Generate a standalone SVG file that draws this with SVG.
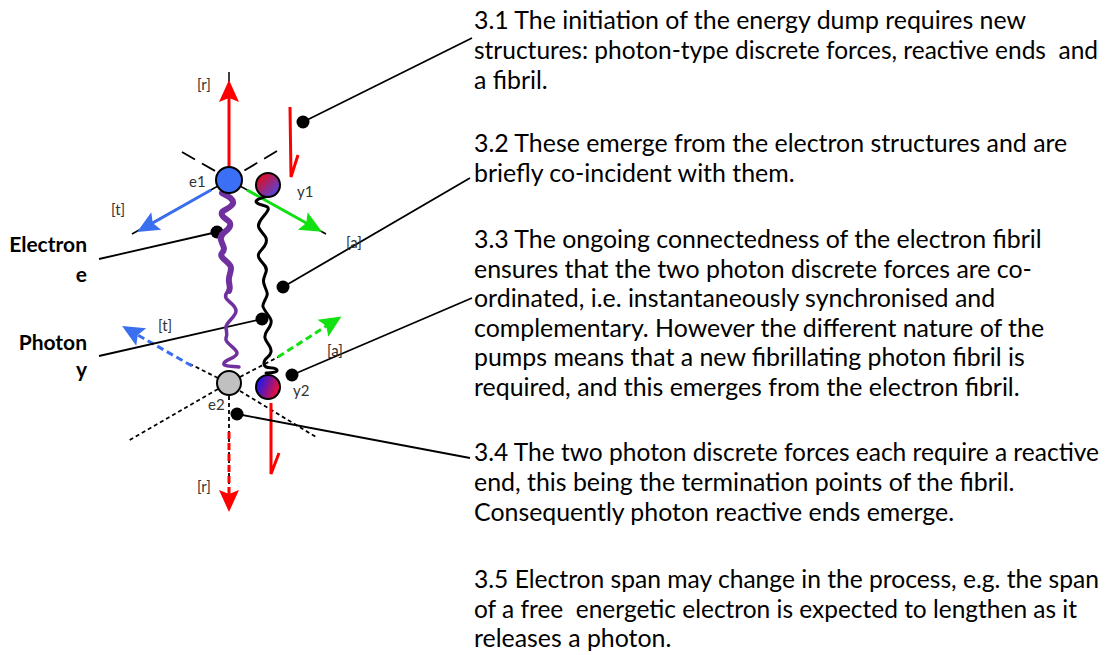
<svg xmlns="http://www.w3.org/2000/svg" width="1107" height="655" viewBox="0 0 1107 655">
<style>
.body{font-family:Lato,"Open Sans","Liberation Sans",sans-serif;font-size:24.9px;fill:#000}
.lbl{font-family:Lato,"Open Sans","Liberation Sans",sans-serif;font-size:15px;fill:#333}
.side{font-family:Lato,"Open Sans","Liberation Sans",sans-serif;font-size:21px;font-weight:bold;fill:#000}
.thin{stroke:#000;stroke-width:1.5;fill:none}
.dot{stroke:#000;stroke-width:1.8;fill:none;stroke-dasharray:4 3}
.call{stroke:#000;stroke-width:1.8;fill:none}
.cdot{fill:#000}
.node{stroke:#000;stroke-width:2}
</style>
<defs>
<marker id="hRed" viewBox="-24 -12 26 24" refX="-16" refY="0" markerWidth="26" markerHeight="24" markerUnits="userSpaceOnUse" orient="auto"><path d="M0,0 L-22,-10 L-18,0 L-22,10 Z" fill="#ff0000"/></marker>
<marker id="hBlue" viewBox="-24 -12 26 24" refX="-16" refY="0" markerWidth="26" markerHeight="24" markerUnits="userSpaceOnUse" orient="auto"><path d="M0,0 L-22,-10 L-18,0 L-22,10 Z" fill="#3a6ff0"/></marker>
<marker id="hGreen" viewBox="-24 -12 26 24" refX="-16" refY="0" markerWidth="26" markerHeight="24" markerUnits="userSpaceOnUse" orient="auto"><path d="M0,0 L-22,-10 L-18,0 L-22,10 Z" fill="#11e011"/></marker>
<linearGradient id="gY1" x1="0" y1="0" x2="1" y2="1"><stop offset="0.2" stop-color="#d8102c"/><stop offset="0.9" stop-color="#4a48e8"/></linearGradient>
<linearGradient id="gY2" x1="0" y1="0.3" x2="1" y2="0.7"><stop offset="0.1" stop-color="#2418e8"/><stop offset="0.9" stop-color="#e8103a"/></linearGradient>
</defs>

<g id="axes">
<line class="thin" x1="229" y1="168" x2="229" y2="72"/>
<line class="thin" x1="218" y1="186" x2="132" y2="234"/>
<line class="thin" x1="240" y1="186" x2="326" y2="234"/>
<line stroke="#000" stroke-width="1.8" stroke-dasharray="15 8" x1="182" y1="152" x2="217" y2="172"/>
<line stroke="#000" stroke-width="1.8" stroke-dasharray="15 8" x1="277" y1="151" x2="242" y2="172"/>
<line class="dot" x1="218" y1="378" x2="190" y2="364"/>
<line class="dot" x1="240" y1="377" x2="278" y2="357"/>
<line class="dot" x1="218" y1="389" x2="128" y2="441"/>
<line class="dot" x1="240" y1="391" x2="316" y2="437"/>
<line class="dot" x1="229" y1="396" x2="229" y2="500"/>
</g>

<g id="connectors">
<line x1="229" y1="168" x2="229" y2="96" stroke="#ff0000" stroke-width="3" marker-end="url(#hRed)"/>
<line x1="211" y1="190" x2="151" y2="224" stroke="#3a6ff0" stroke-width="3" marker-end="url(#hBlue)"/>
<line x1="247" y1="190" x2="308" y2="224" stroke="#11e011" stroke-width="3" marker-end="url(#hGreen)"/>
<line x1="192" y1="366" x2="136" y2="334" stroke="#3a6ff0" stroke-width="3" stroke-dasharray="7 4" marker-end="url(#hBlue)"/>
<line x1="278" y1="357" x2="328" y2="325" stroke="#11e011" stroke-width="3" stroke-dasharray="7 4" marker-end="url(#hGreen)"/>
<line x1="229" y1="432" x2="229" y2="496" stroke="#ff0000" stroke-width="3" stroke-dasharray="7 4" marker-end="url(#hRed)"/>
<path d="M290,107 L291,177 L298,155" fill="none" stroke="#ff0000" stroke-width="3"/>
<path d="M271,403 L271,474 L279,453" fill="none" stroke="#ff0000" stroke-width="3"/>
<line class="call" x1="303" y1="122" x2="472" y2="38"/>
<line class="call" x1="283" y1="287" x2="470" y2="178"/>
<line class="call" x1="217" y1="232" x2="99" y2="259"/>
<line class="call" x1="262" y1="319" x2="99" y2="356"/>
<line class="call" x1="292" y1="375" x2="472" y2="298"/>
<line class="call" x1="237" y1="414" x2="470" y2="458"/>
<circle class="cdot" cx="303" cy="122" r="6.5"/>
<circle class="cdot" cx="283" cy="287" r="6.5"/>
<circle class="cdot" cx="217" cy="232" r="6.5"/>
<circle class="cdot" cx="262" cy="319" r="6.5"/>
<circle class="cdot" cx="292" cy="375" r="6.5"/>
<circle class="cdot" cx="237" cy="414" r="6.5"/>
</g>

<g id="electron-fibril">
<path d="M222,193 C228,196 236,200 232,205 S220,210 222,215 S232,220 230,226 S219,233 221,240 S226,248 222,253 S231,262 231,268 S228,276 229,282 S230,288 229,291" fill="none" stroke="#7030a0" stroke-width="6" stroke-linecap="round"/>
<path d="M229,289 C228,292 224,294 226,298 S236,305 236,311 S226,322 226,327 S228,333 226,338 S237,348 237,353 S226,359 224,363 S234,366 239,367" fill="none" stroke="#7030a0" stroke-width="3.5" stroke-linecap="round"/>
</g>

<g id="photon-fibril">
<path d="M268,196 C262,198 253,200 257,203 S270,205 268,210 S256,222 259,228 S268,236 266,243 S256,252 259,258 S268,266 266,272 S262,280 265,287 S268,294 265,300 S262,306 266,312 S273,320 270,326 S264,333 265,338 S272,346 271,352 S263,358 264,364 S272,366 276,369 S272,373 266,373" fill="none" stroke="#000" stroke-width="3" stroke-linecap="round"/>
</g>

<g id="e1"><circle class="node" cx="229" cy="180" r="13" fill="#3b6ff5"/><text class="lbl" x="189" y="187">e1</text></g>
<g id="y1"><circle class="node" cx="268" cy="185" r="12" fill="url(#gY1)"/><text class="lbl" x="297" y="197">y1</text></g>
<g id="e2"><circle class="node" cx="229" cy="383" r="12" fill="#c0c0c0"/><text class="lbl" x="208" y="410">e2</text></g>
<g id="y2"><circle class="node" cx="268" cy="387" r="12" fill="url(#gY2)"/><text class="lbl" x="293" y="396">y2</text></g>

<g id="labels">
<text class="lbl" x="197" y="90">[r]</text>
<text class="lbl" x="111" y="215">[t]</text>
<text class="lbl" x="346" y="248">[a]</text>
<text class="lbl" x="158" y="331">[t]</text>
<text class="lbl" x="327" y="356">[a]</text>
<text class="lbl" x="197" y="492">[r]</text>
</g>

<g id="side-labels">
<text class="side" x="87" y="252" text-anchor="end">Electron</text>
<text class="side" x="87" y="282" text-anchor="end">e</text>
<text class="side" x="87" y="350" text-anchor="end">Photon</text>
<text class="side" x="87" y="377" text-anchor="end">y</text>
</g>

<g id="notes">
<text class="body" x="474" y="29">3.1 The initiation of the energy dump requires new</text>
<text class="body" x="474" y="59" textLength="624" lengthAdjust="spacingAndGlyphs" xml:space="preserve">structures: photon-type discrete forces, reactive ends  and</text>
<text class="body" x="474" y="89">a fibril.</text>
<text class="body" x="474" y="152">3.2 These emerge from the electron structures and are</text>
<text class="body" x="474" y="182">briefly co-incident with them.</text>
<text class="body" x="474" y="248">3.3 The ongoing connectedness of the electron fibril</text>
<text class="body" x="474" y="278">ensures that the two photon discrete forces are co-</text>
<text class="body" x="474" y="307">ordinated, i.e. instantaneously synchronised and</text>
<text class="body" x="474" y="337">complementary. However the different nature of the</text>
<text class="body" x="474" y="366">pumps means that a new fibrillating photon fibril is</text>
<text class="body" x="474" y="396">required, and this emerges from the electron fibril.</text>
<text class="body" x="474" y="461" textLength="625" lengthAdjust="spacingAndGlyphs">3.4 The two photon discrete forces each require a reactive</text>
<text class="body" x="474" y="491">end, this being the termination points of the fibril.</text>
<text class="body" x="474" y="521">Consequently photon reactive ends emerge.</text>
<text class="body" x="474" y="588" textLength="625" lengthAdjust="spacingAndGlyphs">3.5 Electron span may change in the process, e.g. the span</text>
<text class="body" x="474" y="618" textLength="603" lengthAdjust="spacingAndGlyphs" xml:space="preserve">of a free  energetic electron is expected to lengthen as it</text>
<text class="body" x="474" y="647">releases a photon.</text>
</g>
</svg>
